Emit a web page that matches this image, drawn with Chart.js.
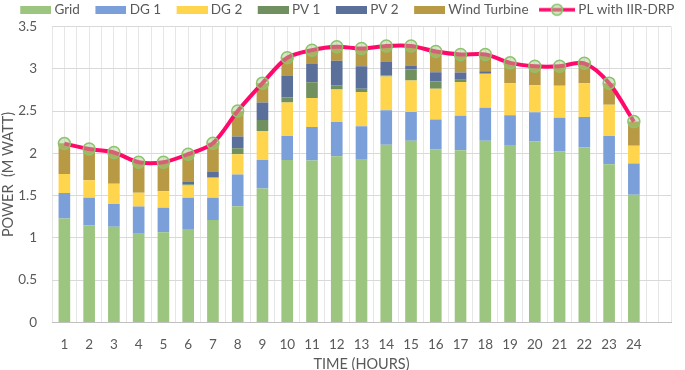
<!DOCTYPE html>
<html>
<head>
<meta charset="utf-8">
<script src="https://cdn.jsdelivr.net/npm/chart.js@4/dist/chart.umd.min.js"></script>
<style>
    html, body { margin: 0; padding: 0; background: #fff; }
    #wrap { width: 685px; height: 370px; }
</style>
</head>
<body>
<div id="wrap"><canvas id="power"></canvas></div>
<script>
// hours (25th slot is empty, like the original sheet)
const hours = ['1','2','3','4','5','6','7','8','9','10','11','12','13','14','15','16','17','18','19','20','21','22','23','24',''];

// generation per source, M watt
const grid = [1.23, 1.145, 1.13, 1.05, 1.065, 1.105, 1.21, 1.375, 1.585, 1.92, 1.915, 1.965, 1.925, 2.10, 2.15, 2.045, 2.035, 2.15, 2.09, 2.14, 2.02, 2.07, 1.87, 1.51];
const dg1 = [0.30, 0.33, 0.27, 0.32, 0.29, 0.37, 0.265, 0.375, 0.335, 0.285, 0.395, 0.405, 0.395, 0.41, 0.34, 0.355, 0.41, 0.39, 0.36, 0.345, 0.40, 0.36, 0.335, 0.37];
const dg2 = [0.225, 0.205, 0.24, 0.165, 0.195, 0.145, 0.235, 0.24, 0.345, 0.395, 0.345, 0.385, 0.405, 0.40, 0.37, 0.365, 0.40, 0.40, 0.38, 0.32, 0.38, 0.40, 0.37, 0.21];
const pv1 = [0, 0, 0, 0, 0, 0.015, 0.01, 0.07, 0.13, 0.06, 0.185, 0.05, 0.04, 0.01, 0.13, 0.085, 0.025, 0, 0, 0, 0, 0, 0, 0];
const pv2 = [0, 0, 0, 0, 0, 0.025, 0.06, 0.14, 0.205, 0.255, 0.215, 0.29, 0.265, 0.16, 0.05, 0.11, 0.085, 0.03, 0, 0, 0, 0, 0, 0];
const wind = [0.365, 0.375, 0.37, 0.365, 0.35, 0.33, 0.345, 0.30, 0.23, 0.215, 0.16, 0.17, 0.21, 0.19, 0.23, 0.25, 0.215, 0.20, 0.24, 0.225, 0.23, 0.24, 0.255, 0.285];
// load with IIR-DRP
const plLoad = [2.115, 2.05, 2.01, 1.895, 1.895, 1.99, 2.12, 2.50, 2.83, 3.13, 3.22, 3.26, 3.24, 3.27, 3.27, 3.205, 3.17, 3.17, 3.07, 3.03, 3.03, 3.065, 2.83, 2.375];

const yTicks = [0, 0.5, 1, 1.5, 2, 2.5, 3, 3.5];

const txtColor = '#595959';
Chart.defaults.font.family = "Lato, 'Noto Sans', sans-serif";
Chart.defaults.font.size = 13.5;
Chart.defaults.color = txtColor;

// legend icons: 44px wide canvas, swatch sits on the right part so there is space before it
const ICON_W = 44;
function boxIcon(color) {
    const c = document.createElement('canvas');
    c.width = ICON_W; c.height = 8;
    const ctx = c.getContext('2d');
    ctx.fillStyle = color;
    ctx.fillRect(ICON_W - 31, 0, 31, 8);
    return c;
}
function lineIcon() {
    const c = document.createElement('canvas');
    c.width = ICON_W; c.height = 14;
    const ctx = c.getContext('2d');
    ctx.strokeStyle = '#ff0a6a';
    ctx.lineWidth = 3.5;
    ctx.beginPath(); ctx.moveTo(ICON_W - 36, 7); ctx.lineTo(ICON_W, 7); ctx.stroke();
    ctx.beginPath(); ctx.arc(ICON_W - 18, 7, 5.5, 0, Math.PI * 2);
    ctx.fillStyle = 'rgba(160,205,130,0.5)'; ctx.fill();
    ctx.strokeStyle = '#8cc46e'; ctx.lineWidth = 1.5; ctx.stroke();
    return c;
}

const colors = ['#9cc57f', '#7b9fd9', '#ffd54d', '#70915f', '#5b6f9b', '#b89a45'];
const legendIcons = colors.map(boxIcon).concat([lineIcon()]);

const bar = (label, data, color) => ({
    type: 'bar', label, data,
    xAxisID: 'x',
    yAxisID: 'y',
    backgroundColor: color,
    borderWidth: 0,
    barPercentage: 0.47,
    categoryPercentage: 1,
    order: 1
});

new Chart(document.getElementById('power'), {
    data: {
        labels: hours,
        datasets: [
            bar('Grid', grid, colors[0]),
            bar('DG 1', dg1, colors[1]),
            bar('DG 2', dg2, colors[2]),
            bar('PV 1', pv1, colors[3]),
            bar('PV 2', pv2, colors[4]),
            bar('Wind Turbine', wind, colors[5]),
            {
                type: 'line',
                label: 'PL with IIR-DRP',
                data: plLoad,
                xAxisID: 'x',
                yAxisID: 'y',
                borderColor: '#ff0a6a',
                borderWidth: 4,
                tension: 0.3,
                pointRadius: 6,
                pointBorderWidth: 1.5,
                pointBorderColor: '#8cc46e',
                pointBackgroundColor: 'rgba(160,205,130,0.45)',
                order: 0
            }
        ]
    },
    options: {
        responsive: true,
        maintainAspectRatio: false,
        animation: false,
        layout: { padding: { left: 0, right: 0, top: -3, bottom: -3 } },
        plugins: {
            tooltip: { enabled: false },
            legend: {
                position: 'top',
                labels: {
                    usePointStyle: true,
                    pointStyleWidth: 37,
                    boxHeight: 8,
                    padding: 6,
                    color: txtColor,
                    font: { size: 13.5 },
                    generateLabels(chart) {
                        const items = Chart.defaults.plugins.legend.labels.generateLabels(chart);
                        items.sort((a, b) => a.datasetIndex - b.datasetIndex);
                        items.forEach(it => { it.pointStyle = legendIcons[it.datasetIndex]; });
                        return items;
                    }
                }
            }
        },
        scales: {
            x: {
                type: 'category',
                stacked: true,
                offset: true,
                grid: { display: false },
                border: { color: '#bfbfbf' },
                ticks: { color: txtColor, maxRotation: 0, autoSkip: false, padding: 6 },
                title: { display: true, text: 'TIME (HOURS)', color: txtColor, font: { size: 14.5 }, padding: { top: -3, bottom: 0 } }
            },
            // half-category vertical grid like the sheet
            xg: {
                type: 'linear',
                position: 'bottom',
                min: 0.5,
                max: 25.5,
                ticks: { display: false, stepSize: 0.5, maxTicksLimit: 100 },
                grid: { color: '#e6e6e6', drawTicks: false },
                border: { display: false }
            },
            // spacer for the right margin
            yr: {
                type: 'linear',
                position: 'right',
                ticks: { display: false },
                grid: { display: false, drawTicks: false },
                border: { display: false },
                afterFit(axis) { axis.width = 14; }
            },
            y: {
                stacked: true,
                min: 0,
                max: 3.5,
                afterBuildTicks(axis) { axis.ticks = yTicks.map(v => ({ value: v })); },
                afterFit(axis) { axis.width = 52; },
                grid: { color: '#d9d9d9', drawTicks: false },
                border: { display: false },
                ticks: {
                    color: txtColor,
                    padding: 15,
                    callback: v => String(v)
                },
                title: { display: true, text: 'POWER  (M WATT)', color: txtColor, font: { size: 14.5 }, padding: { top: 0, bottom: 2 } }
            }
        }
    }
});
</script>
</body>
</html>
